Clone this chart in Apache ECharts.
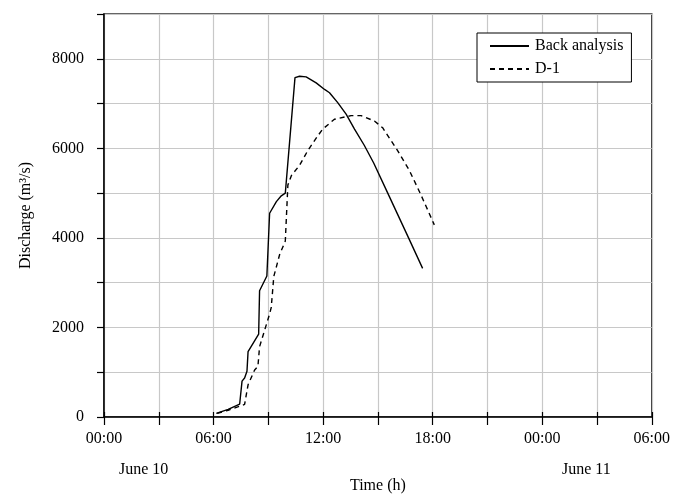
<!DOCTYPE html>
<html>
<head>
<meta charset="utf-8">
<script src="https://cdn.jsdelivr.net/npm/echarts@6/dist/echarts.min.js"></script>
<style>
  html, body { margin: 0; padding: 0; background: #fff; }
  #chart { width: 673px; height: 499px; }
</style>
</head>
<body>
<div id="chart"></div>
<script>
// Hours since 00:00 on June 10, and discharge in m3/s
const backHours = [6.15, 6.8, 7.43, 7.56, 7.70, 7.83, 7.89, 8.47, 8.52, 8.92, 9.07, 9.44, 9.71, 9.93,
  10.46, 10.71, 11.07, 11.62, 12.08, 12.35, 12.80, 13.26, 13.72, 14.26, 14.77, 15.54, 16.68, 17.45];
const backFlow = [80, 170, 290, 800, 870, 1020, 1460, 1850, 2820, 3150, 4550, 4810, 4940, 5000,
  7580, 7610, 7595, 7462, 7315, 7242, 7020, 6762, 6431, 6063, 5672, 5000, 4000, 3320];

const d1Hours = [6.20, 6.8, 7.70, 7.89, 8.25, 8.43, 8.52, 9.07, 9.16, 9.30, 9.62, 9.93, 10.07, 10.26,
  10.71, 11.16, 11.71, 11.98, 12.62, 13.53, 14.08, 14.81, 15.26, 16.08, 16.72, 17.36, 18.09];
const d1Flow = [80, 150, 280, 720, 1050, 1130, 1570, 2300, 2450, 3140, 3630, 3930, 5180, 5390,
  5620, 5950, 6280, 6430, 6650, 6730, 6730, 6610, 6460, 5950, 5510, 4960, 4290];

const seriesNames = ['Back analysis', 'D-1'];
const dayLabels = ['June 10', 'June 11'];
const xTitle = 'Time (h)';
const yTitle = 'Discharge (m³/s)';

const pair = (xs, ys) => xs.map((x, i) => [x, ys[i]]);
const serif = '"Liberation Serif", "DejaVu Serif", serif';
const hourLabel = v => (v % 6 === 0) ? String(v % 24).padStart(2, '0') + ':00' : '';

const chart = echarts.init(document.getElementById('chart'), null, { renderer: 'canvas' });

const xBase = {
  type: 'value', min: 0, max: 30, interval: 3,
  splitLine: { show: false }
};

chart.setOption({
  animation: false,
  backgroundColor: '#fff',
  textStyle: { fontFamily: serif },
  grid: {
    left: 104, right: 20, top: 14, bottom: 77,
    show: true, borderColor: '#333', borderWidth: 1.5, backgroundColor: 'transparent'
  },
  legend: {
    data: seriesNames,
    orient: 'vertical',
    left: 477, top: 33,
    padding: [5, 8, 5, 12],
    itemWidth: 39, itemHeight: 12, itemGap: 7,
    backgroundColor: '#fff',
    borderColor: '#000', borderWidth: 1, borderRadius: 0,
    itemStyle: { opacity: 0 },
    textStyle: { fontFamily: serif, fontSize: 16, color: '#000', padding: [0, 0, 0, 1] }
  },
  xAxis: [
    Object.assign({}, xBase, {
      name: xTitle, nameLocation: 'middle', nameGap: 61,
      nameTextStyle: { fontFamily: serif, fontSize: 16, color: '#000' },
      axisLine: { show: true, onZero: false, lineStyle: { color: '#000', width: 1.5 } },
      axisTick: { show: true, length: 8, lineStyle: { color: '#000', width: 1.2 } },
      axisLabel: { formatter: hourLabel, margin: 14, fontFamily: serif, fontSize: 16, color: '#000' },
      splitLine: { show: true, lineStyle: { color: '#c8c8c8', width: 1.2 } }
    }),
    // short inward ticks so the hour marks cross the axis line
    Object.assign({}, xBase, {
      position: 'bottom',
      axisLine: { show: false },
      axisTick: { show: true, inside: true, length: 5, lineStyle: { color: '#000', width: 1.2 } },
      axisLabel: { show: false }
    })
  ],
  yAxis: {
    type: 'value', min: 0, max: 9000, interval: 1000,
    name: yTitle, nameLocation: 'middle', nameGap: 70, nameRotate: 90,
    nameTextStyle: { fontFamily: serif, fontSize: 16, color: '#000' },
    axisLine: { show: true, onZero: false, lineStyle: { color: '#000', width: 1.5 } },
    axisTick: { show: true, length: 7, lineStyle: { color: '#000', width: 1.2 } },
    axisLabel: {
      formatter: v => (v % 2000 === 0 && v < 9000) ? String(v) : '',
      margin: 20, fontFamily: serif, fontSize: 16, color: '#000'
    },
    splitLine: { show: true, lineStyle: { color: '#c8c8c8', width: 1.2 } }
  },
  graphic: [
    { type: 'text', left: 119, top: 462,
      style: { text: dayLabels[0], font: '16px ' + serif, fill: '#000' } },
    { type: 'text', left: 562, top: 462,
      style: { text: dayLabels[1], font: '16px ' + serif, fill: '#000' } }
  ],
  series: [
    {
      name: seriesNames[0], type: 'line', xAxisIndex: 0,
      data: pair(backHours, backFlow),
      symbol: 'none', smooth: false,
      lineStyle: { color: '#000', width: 1.4, type: 'solid' },
      itemStyle: { color: '#000' }
    },
    {
      name: seriesNames[1], type: 'line', xAxisIndex: 0,
      data: pair(d1Hours, d1Flow),
      symbol: 'none', smooth: false,
      lineStyle: { color: '#000', width: 1.4, type: [5, 4] },
      itemStyle: { color: '#000' }
    }
  ]
});
</script>
</body>
</html>
